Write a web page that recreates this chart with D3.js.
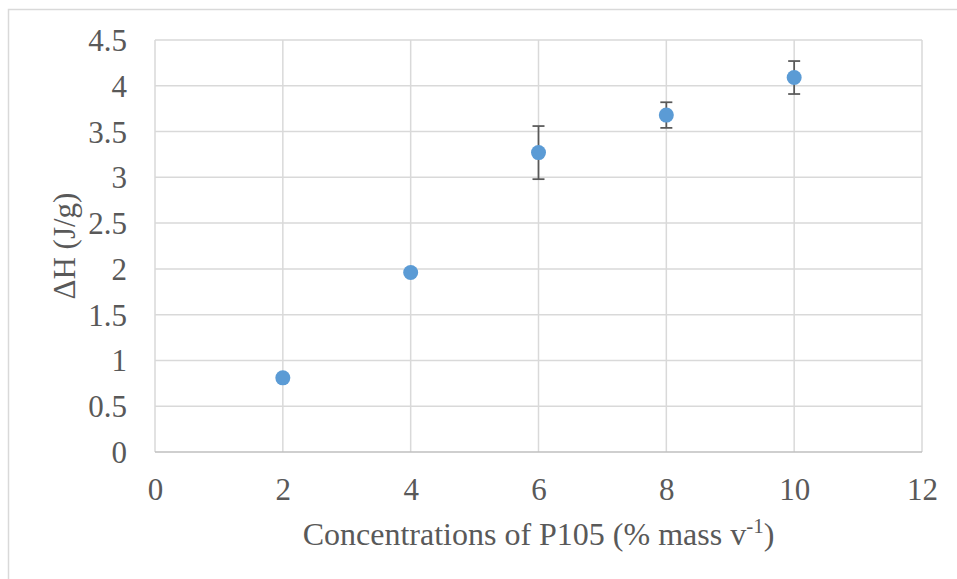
<!DOCTYPE html>
<html>
<head>
<meta charset="utf-8">
<script src="https://cdn.jsdelivr.net/npm/d3@7"></script>
<style>
  html, body { margin: 0; padding: 0; background: #fff; }
  svg { display: block; }
  svg text { font-family: "Liberation Serif", "Times New Roman", Tinos, "DejaVu Serif", serif; }
</style>
</head>
<body>
<script>
// Enthalpy vs. P105 concentration, with standard-deviation error bars
const concentrations = [2, 4, 6, 8, 10];
const deltaH = [0.81, 1.96, 3.27, 3.68, 4.09];
const errors = [0.03, 0.02, 0.29, 0.14, 0.18];
const xTicks = [0, 2, 4, 6, 8, 10, 12];
const yTicks = [0, 0.5, 1, 1.5, 2, 2.5, 3, 3.5, 4, 4.5];

const W = 957, H = 579;
const margin = { left: 155, right: 35, top: 40, bottom: 127 };
const textColor = "#595959";

const svg = d3.select("body").append("svg")
  .attr("width", W).attr("height", H);

// chart-area frame (left and top edges)
svg.append("path")
  .attr("d", `M8.5,${H} L8.5,9.5 L${W},9.5`)
  .attr("fill", "none").attr("stroke", "#d9d9d9").attr("stroke-width", 1.5);

const x = d3.scaleLinear().domain([0, 12]).range([margin.left, W - margin.right]);
const y = d3.scaleLinear().domain([0, 4.5]).range([H - margin.bottom, margin.top]);

// gridlines
const grid = svg.append("g");
grid.selectAll("line.h").data(yTicks.filter(d => d > 0)).join("line")
  .attr("x1", x(0)).attr("x2", x(12))
  .attr("y1", d => y(d)).attr("y2", d => y(d))
  .attr("stroke", "#d9d9d9").attr("stroke-width", 1.5);
grid.selectAll("line.v").data(xTicks).join("line")
  .attr("y1", y(0)).attr("y2", y(4.5))
  .attr("x1", d => x(d)).attr("x2", d => x(d))
  .attr("stroke", "#d9d9d9").attr("stroke-width", 1.5);

// x axis baseline
svg.append("line")
  .attr("x1", x(0)).attr("x2", x(12))
  .attr("y1", y(0)).attr("y2", y(0))
  .attr("stroke", "#bfbfbf").attr("stroke-width", 1.5);

// tick labels
const xAxis = d3.axisBottom(x).tickValues(xTicks).tickSize(0).tickPadding(0)
  .tickFormat(d3.format("d"));
const gx = svg.append("g").attr("transform", `translate(0,${y(0)})`).call(xAxis);
gx.select(".domain").remove();
gx.attr("font-family", null);
gx.selectAll("text")
  .attr("y", 48).attr("dy", null)
  .attr("font-size", 31).attr("fill", textColor);

const yAxis = d3.axisLeft(y).tickValues(yTicks).tickSize(0).tickPadding(0)
  .tickFormat(d => String(d));
const gy = svg.append("g").attr("transform", `translate(127,0)`).call(yAxis);
gy.select(".domain").remove();
gy.attr("font-family", null);
gy.selectAll("text")
  .attr("x", 0).attr("dy", "0.34em")
  .attr("font-size", 31).attr("fill", textColor);

// error bars
const capHalf = 6;
const eb = svg.append("g").attr("stroke", "#595959").attr("stroke-width", 1.75);
concentrations.forEach((c, i) => {
  const cx = x(c), top = y(deltaH[i] + errors[i]), bot = y(deltaH[i] - errors[i]);
  eb.append("line").attr("x1", cx).attr("x2", cx).attr("y1", top).attr("y2", bot);
  eb.append("line").attr("x1", cx - capHalf).attr("x2", cx + capHalf).attr("y1", top).attr("y2", top);
  eb.append("line").attr("x1", cx - capHalf).attr("x2", cx + capHalf).attr("y1", bot).attr("y2", bot);
});

// markers
svg.append("g").selectAll("circle").data(concentrations).join("circle")
  .attr("cx", d => x(d))
  .attr("cy", (d, i) => y(deltaH[i]))
  .attr("r", 7.5)
  .attr("fill", "#5b9bd5");

// axis titles
const xt = svg.append("text")
  .attr("x", (x(0) + x(12)) / 2).attr("y", 545)
  .attr("text-anchor", "middle")
  .attr("font-size", 32).attr("fill", textColor);
xt.append("tspan").text("Concentrations of P105 (% mass v");
xt.append("tspan").attr("dy", -12).attr("font-size", 21).text("-1");
xt.append("tspan").attr("dy", 12).text(")");

svg.append("text")
  .attr("transform", `translate(75,${(y(0) + y(4.5)) / 2}) rotate(-90)`)
  .attr("text-anchor", "middle")
  .attr("font-size", 31).attr("fill", textColor)
  .text("ΔH (J/g)");
</script>
</body>
</html>
